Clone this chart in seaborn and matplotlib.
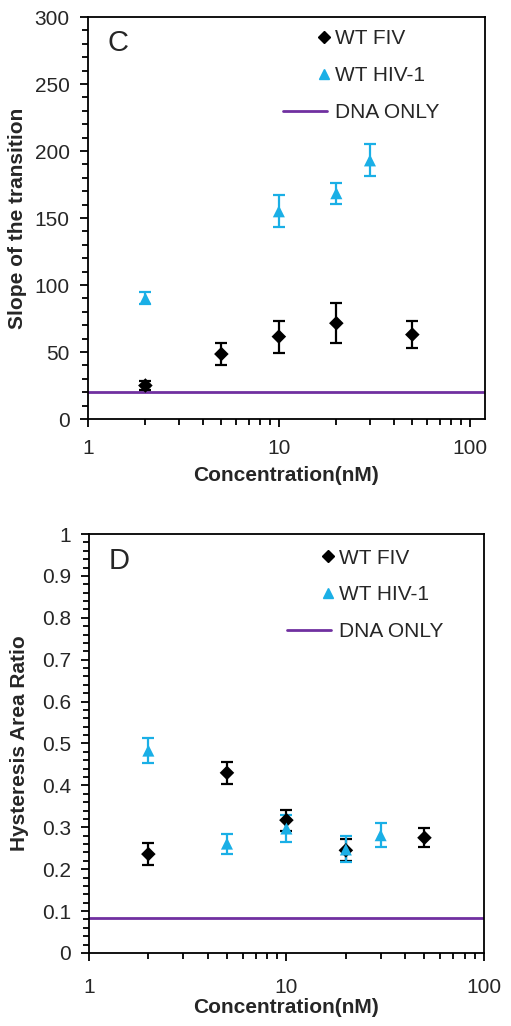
import numpy as np
import pandas as pd
import seaborn as sns
import matplotlib.pyplot as plt
from matplotlib.lines import Line2D
from matplotlib.legend_handler import HandlerLine2D
from matplotlib.ticker import (MultipleLocator, LogLocator, NullFormatter,
                               FixedLocator, FixedFormatter, FuncFormatter)

sns.set_style("ticks")
plt.rcParams['font.family'] = ['Liberation Sans', 'DejaVu Sans']

# panel C: slope of the transition
fiv_conc_c = [2, 5, 10, 20, 50]
fiv_slope = [25, 48.5, 61.5, 71.5, 63]
fiv_slope_err = [3, 8, 12, 15, 10]
hiv_conc_c = [2, 10, 20, 30]
hiv_slope = [90, 155, 168.5, 193]
hiv_slope_err = [4.5, 12, 8, 12]
dna_slope = 20

# panel D: hysteresis area ratio
fiv_conc_d = [2, 5, 10, 20, 50]
fiv_hyst = [0.236, 0.430, 0.317, 0.245, 0.275]
fiv_hyst_err = [0.026, 0.027, 0.025, 0.026, 0.023]
hiv_conc_d = [2, 5, 10, 20, 30]
hiv_hyst = [0.483, 0.261, 0.297, 0.247, 0.281]
hiv_hyst_err = [0.030, 0.024, 0.032, 0.031, 0.029]
dna_hyst = 0.084

black = '#000000'
blue = '#1AAFE6'
purple = '#7030A0'
FS = 15


class RightMarker(HandlerLine2D):
    # single marker sits at the right end of the handle, next to the text
    def get_xdata(self, legend, xdescent, ydescent, width, height, fontsize):
        right = width - xdescent
        return np.array([right - 4, right]), np.array([right - 2])


fig = plt.figure(figsize=(5.11, 10.26), dpi=100)
ax1 = fig.add_axes([0.172, 0.5916, 0.777, 0.3918])
ax2 = fig.add_axes([0.174, 0.0712, 0.773, 0.4083])


def draw_panel(ax, fx, fy, fe, hx, hy, he, dna, letter, ylabel, leg_anchor,
               xpad, xlabelpad, ylabel_x):
    df_f = pd.DataFrame({'conc': fx, 'val': fy})
    df_h = pd.DataFrame({'conc': hx, 'val': hy})
    ax.errorbar(fx, fy, yerr=fe, fmt='none', ecolor=black, elinewidth=1.6,
                capsize=4, capthick=1.6, zorder=2)
    ax.errorbar(hx, hy, yerr=he, fmt='none', ecolor=blue, elinewidth=1.6,
                capsize=4, capthick=1.6, zorder=2)
    sns.scatterplot(data=df_f, x='conc', y='val', marker='D', color=black,
                    s=55, edgecolor='none', ax=ax, zorder=3)
    sns.scatterplot(data=df_h, x='conc', y='val', marker='^', color=blue,
                    s=75, edgecolor='none', ax=ax, zorder=4)
    ax.axhline(dna, color=purple, lw=2, zorder=1)
    ax.set_xscale('log')
    ax.xaxis.set_major_locator(FixedLocator([1, 10, 100]))
    ax.xaxis.set_major_formatter(FixedFormatter(['1', '10', '100']))
    ax.xaxis.set_minor_locator(LogLocator(base=10, subs=np.arange(2, 10)))
    ax.xaxis.set_minor_formatter(NullFormatter())
    ax.set_xlabel('Concentration(nM)', fontsize=FS, fontweight='bold',
                  labelpad=xlabelpad)
    ax.set_ylabel(ylabel, fontsize=FS, fontweight='bold')
    ax.yaxis.set_label_coords(ylabel_x, 0.5)
    ax.tick_params(which='major', direction='out', length=6, width=1.3,
                   labelsize=FS, color=black)
    ax.tick_params(which='minor', direction='out', length=4, width=1.3, color=black)
    ax.tick_params(axis='x', which='major', pad=xpad)
    ax.tick_params(axis='y', which='major', pad=7)
    for sp in ax.spines.values():
        sp.set_visible(True)
        sp.set_linewidth(1.3)
        sp.set_color(black)
    ax.text(0.05, 0.97, letter, transform=ax.transAxes, fontsize=21,
            va='top', ha='left')
    h_fiv = Line2D([], [], marker='D', color=black, ls='none', markersize=6.5)
    h_hiv = Line2D([], [], marker='^', color=blue, ls='none', markersize=7.5)
    h_dna = Line2D([], [], color=purple, lw=2)
    ax.legend([h_fiv, h_hiv, h_dna], ['WT FIV', 'WT HIV-1', 'DNA ONLY'],
              loc='upper left', bbox_to_anchor=leg_anchor, borderaxespad=0,
              frameon=False, fontsize=FS, handlelength=2.1, handletextpad=0.4,
              labelspacing=0.85,
              handler_map={h_fiv: RightMarker(numpoints=1),
                           h_hiv: RightMarker(numpoints=1)})


draw_panel(ax1, fiv_conc_c, fiv_slope, fiv_slope_err, hiv_conc_c, hiv_slope,
           hiv_slope_err, dna_slope, 'C', 'Slope of the transition', (0.471, 0.99),
           xpad=8.5, xlabelpad=6, ylabel_x=-0.154)
ax1.set_xlim(1, 120)
ax1.set_ylim(0, 300)
ax1.yaxis.set_major_locator(MultipleLocator(50))
ax1.yaxis.set_minor_locator(MultipleLocator(10))

draw_panel(ax2, fiv_conc_d, fiv_hyst, fiv_hyst_err, hiv_conc_d, hiv_hyst,
           hiv_hyst_err, dna_hyst, 'D', 'Hysteresis Area Ratio', (0.481, 0.985),
           xpad=12, xlabelpad=0.5, ylabel_x=-0.152)
ax2.set_xlim(1, 100)
ax2.set_ylim(0, 1)
ax2.yaxis.set_major_locator(MultipleLocator(0.1))
ax2.yaxis.set_minor_locator(MultipleLocator(0.02))
ax2.yaxis.set_major_formatter(FuncFormatter(lambda v, p: '%g' % round(v, 2)))

fig.savefig('out.png', dpi=100)
